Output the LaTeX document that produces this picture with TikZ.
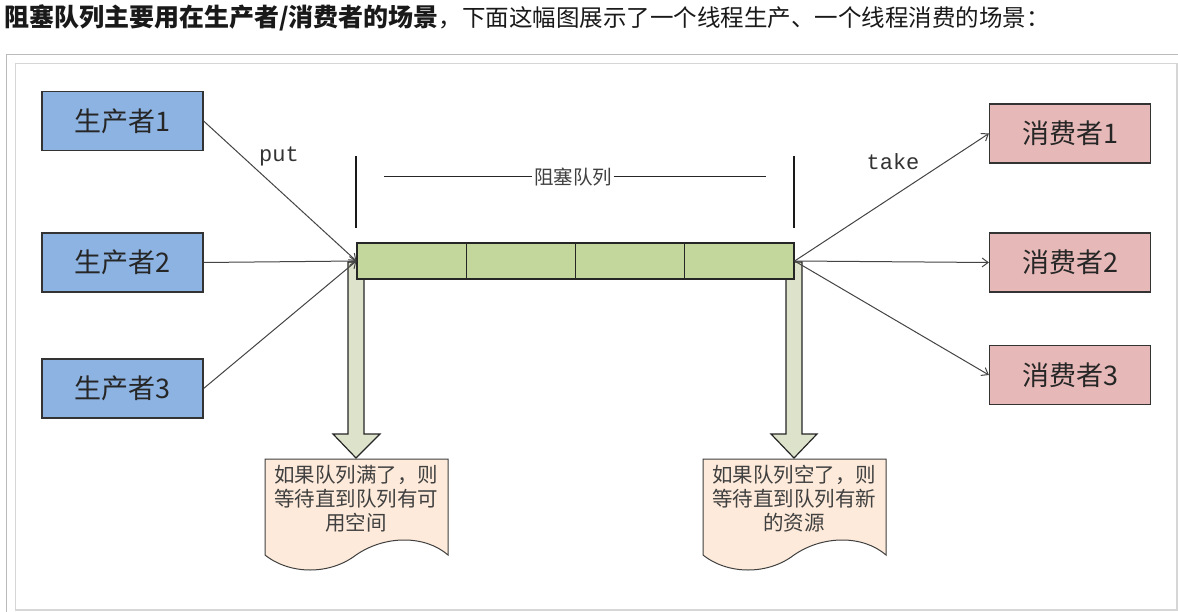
\documentclass[tikz,border=0pt]{standalone}
\usepackage{fontspec}
\newfontfamily\cjk{Noto Sans CJK SC}
\newfontfamily\monof{Liberation Mono}
\usetikzlibrary{arrows.meta}
\definecolor{prodblue}{HTML}{8DB3E2}
\definecolor{conspink}{HTML}{E6B9B8}
\definecolor{qgreen}{HTML}{C3D69B}
\definecolor{arrgreen}{HTML}{DDE3CB}
\definecolor{docfill}{HTML}{FDEADA}
\definecolor{linegray}{HTML}{444444}
\definecolor{framegray}{HTML}{BBBBBB}
\definecolor{framelight}{HTML}{D6D6D6}
\tikzset{
  pbox/.style={draw=black!80, fill=prodblue, line width=1.2pt, minimum width=161pt, minimum height=59pt, inner sep=0pt, font=\cjk\fontsize{27}{29}\selectfont, text=black!85},
  cbox/.style={pbox, fill=conspink},
  qcell/.style={draw=black!85, fill=qgreen, line width=1.2pt, minimum width=109.25pt, minimum height=36pt, inner sep=0pt},
  conn/.style={draw=linegray, line width=1pt, -{Straight Barb[length=6pt,width=9pt]}},
  blockarrow/.style={draw=black!85, fill=arrgreen, line width=1.2pt, line join=miter},
  docshape/.style={draw=black!75, fill=docfill, line width=1pt},
  doctext/.style={font=\cjk\fontsize{20.5}{24}\selectfont, text=black!75, align=center, inner sep=0pt},
  bracket/.style={draw=black!90, line width=1.2pt},
  lbl/.style={font=\monof\fontsize{22}{24}\selectfont, text=black!80, inner sep=0pt}
}
\begin{document}
\begin{tikzpicture}[x=1pt,y=-1pt]
\useasboundingbox (0,0) rectangle (1178,612);
\fill[white] (0,0) rectangle (1178,612);
% heading
\node[anchor=west, inner sep=0pt, font=\cjk\fontsize{23.5}{26}\selectfont, text=black!90] (head) at (4,18)
  {{\fontsize{25}{26}\selectfont\bfseries 阻塞队列主要用在生产者/消费者的场景}，下面这幅图展示了一个线程生产、一个线程消费的场景：};
% frames
\draw[framegray, line width=1.5pt] (6.5,613) -- (6.5,54.5) -- (1180,54.5);
\draw[framelight, line width=1.5pt] (15.5,610) -- (15.5,63.5) -- (1177,63.5) -- (1177,610) -- cycle;
% block arrows (behind queue)
\draw[blockarrow] (348,262) -- (348,434) -- (333,434) -- (356,458) -- (380,434) -- (364,434) -- (364,262) -- cycle;
\draw[blockarrow] (786,262) -- (786,434) -- (771,434) -- (794,458) -- (817,434) -- (802,434) -- (802,262) -- cycle;
% queue
\node[qcell] (q1) at (411.6,261) {};
\node[qcell] (q2) at (520.9,261) {};
\node[qcell] (q3) at (630.1,261) {};
\node[qcell] (q4) at (739.4,261) {};
% producers
\node[pbox] (p1) at (122.5,121) {生产者1};
\node[pbox] (p2) at (122.5,262.5) {生产者2};
\node[pbox] (p3) at (122.5,388.5) {生产者3};
% consumers
\node[cbox] (c1) at (1070,133.5) {消费者1};
\node[cbox] (c2) at (1070,262.5) {消费者2};
\node[cbox] (c3) at (1070,375) {消费者3};
% connectors
\draw[conn] (p1.east) -- (q1.west);
\draw[conn] (p2.east) -- (q1.west);
\draw[conn] (p3.east) -- (q1.west);
\draw[conn] (q4.east) -- (c1.west);
\draw[conn] (q4.east) -- (c2.west);
\draw[conn] (q4.east) -- (c3.west);
% labels
\node[lbl] (put) at (279,156) {put};
\node[lbl] (take) at (893,162) {take};
% bracket
\draw[bracket] (356,156) -- (356,228);
\draw[bracket] (794,156) -- (794,228);
\node[inner sep=1.5pt, font=\cjk\fontsize{19.5}{21}\selectfont, text=black!75] (qlabel) at (573,177) {阻塞队列};
\coordinate (bl) at (384,177);
\coordinate (br) at (766,177);
\draw[draw=black!85, line width=1pt] (bl) -- (qlabel.west);
\draw[draw=black!85, line width=1pt] (qlabel.east) -- (br);
% documents
\draw[docshape] (265,459) -- (448,459) -- (448,555) .. controls (425,535) and (385,535) .. (356,555) .. controls (330,575) and (290,575) .. (265,555) -- cycle;
\node[doctext] (d1) at (356,499) {如果队列满了，则\\等待直到队列有可\\用空间};
\draw[docshape] (703,459) -- (886,459) -- (886,555) .. controls (863,535) and (823,535) .. (794,555) .. controls (768,575) and (728,575) .. (703,555) -- cycle;
\node[doctext] (d2) at (794,499) {如果队列空了，则\\等待直到队列有新\\的资源};
\end{tikzpicture}
\end{document}
